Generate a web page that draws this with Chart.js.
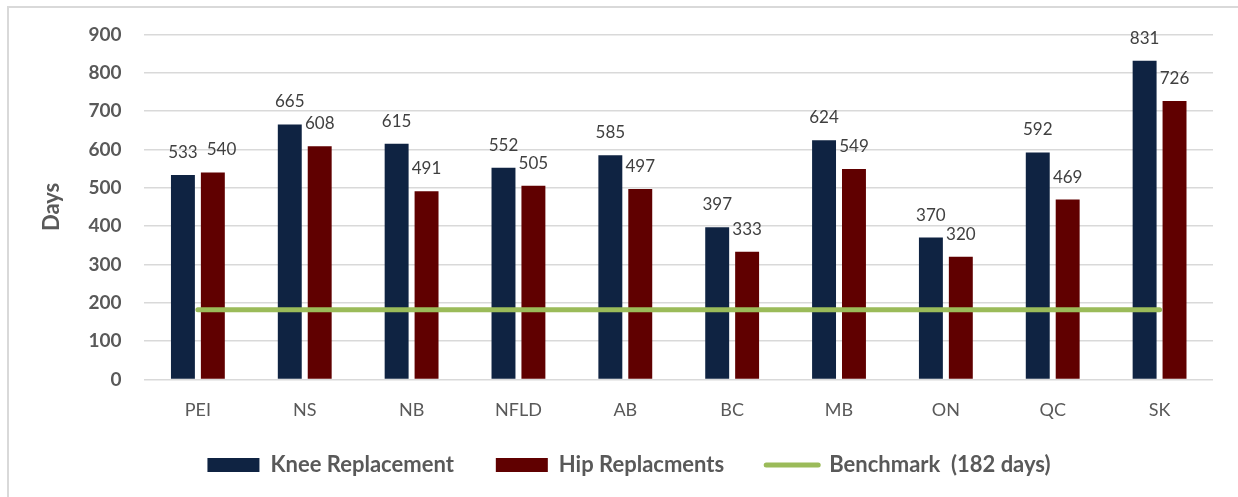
<!DOCTYPE html>
<html>
<head>
<meta charset="utf-8">
<script src="https://cdn.jsdelivr.net/npm/chart.js@4/dist/chart.umd.min.js"></script>
<style>
  html, body { margin: 0; padding: 0; background: #fff; overflow: hidden; }
  #frame { position: absolute; left: 7px; top: 6px; width: 1300px; height: 600px;
           border-left: 2px solid #d9d9d9; border-top: 2px solid #d9d9d9; }
  #wrap { position: absolute; left: 0; top: 0; width: 1238px; height: 497px; }
</style>
</head>
<body>
<div id="frame"></div>
<div id="wrap"><canvas id="chart" width="1238" height="497"></canvas></div>
<script>
// Provinces and wait times (days)
const provinces = ['PEI', 'NS', 'NB', 'NFLD', 'AB', 'BC', 'MB', 'ON', 'QC', 'SK'];
const kneeDays = [533, 665, 615, 552, 585, 397, 624, 370, 592, 831];
const hipDays = [540, 608, 491, 505, 497, 333, 549, 320, 469, 726];
const benchmarkDays = [182, 182, 182, 182, 182, 182, 182, 182, 182, 182];
const yTicks = [0, 100, 200, 300, 400, 500, 600, 700, 800, 900];

const FONT = 'Lato, "Noto Sans", sans-serif';
const X_AXIS_TRIM = 21;
const LEGEND_SHIFT = 8;

// Value labels above every bar; a hip label that would collide with the
// knee label next to it is nudged to the right.
const barValueLabels = {
  id: 'barValueLabels',
  afterDatasetsDraw(chart) {
    const ctx = chart.ctx;
    ctx.save();
    ctx.font = '17px ' + FONT;
    ctx.fillStyle = '#404040';
    ctx.textAlign = 'center';
    ctx.textBaseline = 'alphabetic';
    const h = 12.5, gap = 9, lift = 17;
    const kneeMeta = chart.getDatasetMeta(0);
    const hipMeta = chart.getDatasetMeta(1);
    provinces.forEach((p, j) => {
      const kb = kneeMeta.data[j], hb = hipMeta.data[j];
      const kt = String(kneeDays[j]), ht = String(hipDays[j]);
      const kw = ctx.measureText(kt).width, hw = ctx.measureText(ht).width;
      const ky = kb.y - lift, hy = hb.y - lift;
      let hx = hb.x;
      const vOverlap = Math.abs(ky - hy) < h;
      const kRight = kb.x + kw / 2;
      if (vOverlap && hx - hw / 2 < kRight + gap) hx = kRight + gap + hw / 2;
      ctx.fillText(kt, kb.x, ky);
      ctx.fillText(ht, hx, hy);
    });
    ctx.restore();
  }
};

// The x axis reserves less room so the legend sits close under it;
// give its box the full height back afterwards so the labels are not clipped.
const layoutTweaks = {
  id: 'layoutTweaks',
  afterLayout(chart) {
    const x = chart.scales.x;
    x.bottom += X_AXIS_TRIM;
    x.height += X_AXIS_TRIM;
    const lg = chart.legend;
    if (lg) { lg.left += LEGEND_SHIFT; lg.right += LEGEND_SHIFT; }
  }
};

new Chart(document.getElementById('chart'), {
  type: 'bar',
  data: {
    labels: provinces,
    datasets: [
      {
        label: 'Knee Replacement',
        data: kneeDays,
        backgroundColor: '#0f2342',
        categoryPercentage: 0.56,
        barPercentage: 0.8,
        order: 2
      },
      {
        label: 'Hip Replacments',
        data: hipDays,
        backgroundColor: '#600000',
        categoryPercentage: 0.56,
        barPercentage: 0.8,
        order: 2
      },
      {
        type: 'line',
        label: 'Benchmark  (182 days)',
        data: benchmarkDays,
        borderColor: '#9bbb59',
        backgroundColor: '#9bbb59',
        borderWidth: 5,
        borderCapStyle: 'round',
        pointRadius: 0,
        pointHoverRadius: 0,
        pointStyle: 'line',
        order: 1
      }
    ]
  },
  options: {
    responsive: false,
    animation: false,
    events: [],
    layout: { padding: { left: 29, right: 25, top: 25, bottom: 11 } },
    scales: {
      x: {
        grid: { display: false },
        border: { display: false },
        ticks: { color: '#595959', font: { family: FONT, size: 18 }, padding: 12 },
        afterFit(scale) { scale.height -= X_AXIS_TRIM; }
      },
      y: {
        min: 0,
        max: 900,
        afterBuildTicks(axis) { axis.ticks = yTicks.map(v => ({ value: v })); },
        grid: { color: '#d9d9d9', lineWidth: 1.5, drawTicks: false },
        border: { display: false },
        ticks: { color: '#595959', font: { family: FONT, size: 19, weight: 'bold' }, padding: 23 },
        title: {
          display: true,
          text: 'Days',
          color: '#595959',
          font: { family: FONT, size: 22, weight: 'bold' },
          padding: { top: 10, bottom: 0 }
        }
      }
    },
    plugins: {
      legend: {
        position: 'bottom',
        labels: {
          usePointStyle: true,
          pointStyleWidth: 52,
          boxHeight: 14,
          padding: 42,
          color: '#595959',
          font: { family: FONT, size: 22, weight: 'bold' },
          generateLabels(chart) {
            return chart.data.datasets.map((ds, i) => ({
              text: ds.label,
              datasetIndex: i,
              fillStyle: ds.backgroundColor,
              strokeStyle: ds.type === 'line' ? ds.borderColor : ds.backgroundColor,
              lineWidth: ds.type === 'line' ? 5 : 0,
              lineCap: 'round',
              pointStyle: ds.type === 'line' ? 'line' : 'rect',
              fontColor: '#595959',
              hidden: false
            }));
          }
        }
      },
      tooltip: { enabled: false }
    }
  },
  plugins: [barValueLabels, layoutTweaks]
});
</script>
</body>
</html>
